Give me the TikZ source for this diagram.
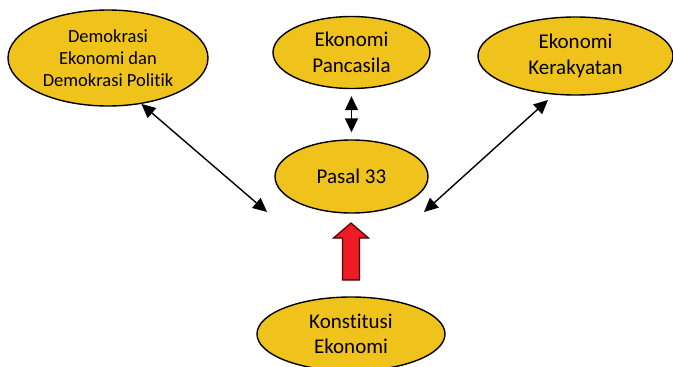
\documentclass[tikz,border=0pt]{standalone}
\usepackage{fontspec}
\setmainfont{Carlito}[Ligatures={NoCommon}]
\usetikzlibrary{shapes.geometric,arrows.meta}
\definecolor{gold}{RGB}{239,195,28}
\definecolor{redarrow}{RGB}{237,28,36}
\tikzset{
  oval/.style={ellipse, draw=black, line width=1.4pt, fill=gold, inner sep=0pt, align=center,
    font=\fontsize{21}{25.5}\selectfont},
  link/.style={{Triangle[length=14pt,width=13pt]}-{Triangle[length=14pt,width=13pt]}, line width=1.4pt, black}
}
\begin{document}
\begin{tikzpicture}[x=1pt,y=-1pt]
\useasboundingbox (0,0) rectangle (673,367);
\node[oval, minimum width=200pt, minimum height=96pt, font=\fontsize{18.5}{22}\selectfont] (tl) at (108,58) {Demokrasi\\Ekonomi dan\\Demokrasi Politik};
\node[oval, minimum width=157pt, minimum height=72pt] (tm) at (351.5,52.5) {Ekonomi\\Pancasila};
\node[oval, minimum width=195pt, minimum height=78pt] (tr) at (575.5,56) {Ekonomi\\Kerakyatan};
\node[oval, minimum width=153pt, minimum height=73pt] (p33) at (351.5,176.5) {Pasal 33};
\node[oval, minimum width=188pt, minimum height=74pt] (ke) at (351,334) {Konstitusi\\Ekonomi};
\coordinate (lend) at (267,212);
\coordinate (rend) at (424,212);
\coordinate (rtip) at (548,100);
\draw[link] (tl.-54) -- (lend);
\draw[link] (rtip) -- (rend);
\draw[link, shorten <=7pt, shorten >=7pt] (tm.south) -- (p33.north);
\draw[fill=redarrow, draw=black!70!red, line width=1.2pt]
  (342.5,280) -- (342.5,238) -- (333.5,238) -- (351,223) -- (368.5,238) -- (359.5,238) -- (359.5,280) -- cycle;
\end{tikzpicture}
\end{document}
